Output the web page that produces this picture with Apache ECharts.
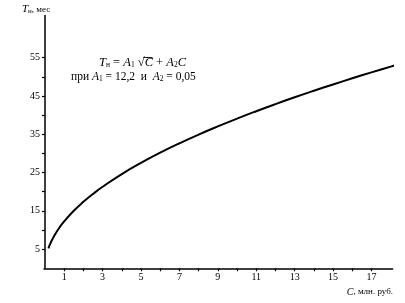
<!DOCTYPE html>
<html><head><meta charset="utf-8">
<script src="https://cdn.jsdelivr.net/npm/echarts@6/dist/echarts.min.js"></script>
<style>html,body{margin:0;padding:0;background:#fff}#c{width:405px;height:303px}</style>
</head><body><div id="c"></div>
<script>
const cValues = [0.18,0.3,0.5,0.75,1,1.5,2,2.5,3,4,5,6,7,8,9,10,11,12,13,14,15,16,17,18,18.5];
const tValues = [5.19,6.70,8.65,10.60,12.25,15.02,17.35,19.41,21.28,24.6,27.53,30.18,32.63,34.91,37.05,39.08,41.01,42.86,44.64,46.35,48.00,49.6,51.15,52.66,53.40];
const xTicks = [1,2,3,4,5,6,7,8,9,10,11,12,13,14,15,16,17];
const xLabels = [1,3,5,7,9,11,13,15,17];
const yTicks = [5,10,15,20,25,30,35,40,45,50,55];
const yLabels = [5,15,25,35,45,55];

const F = '"Liberation Serif", "DejaVu Serif", serif';
const chart = echarts.init(document.getElementById('c'), null, {renderer:'canvas'});
chart.setOption({
  animation:false,
  backgroundColor:'#fff',
  grid:{left:44, right:12.4, top:15.5, bottom:34.7},
  xAxis:{type:'value', min:-0.05, max:18.1,
    axisLine:{show:true, lineStyle:{color:'#000', width:1.5}},
    axisTick:{show:true, customValues:xTicks, length:3, lineStyle:{color:'#000', width:1.2}},
    axisLabel:{customValues:xLabels, color:'#000', fontFamily:F, fontSize:10, margin:4},
    splitLine:{show:false}},
  yAxis:{type:'value', min:0, max:66,
    axisLine:{show:true, lineStyle:{color:'#000', width:1.5}},
    axisTick:{show:true, customValues:yTicks, length:3, lineStyle:{color:'#000', width:1.2}},
    axisLabel:{customValues:yLabels, color:'#000', fontFamily:F, fontSize:10, margin:4},
    splitLine:{show:false}},
  series:[{type:'line', data:cValues.map((c,i)=>[c,tValues[i]]), smooth:true, showSymbol:false, clip:false,
    lineStyle:{color:'#000', width:2}}],
  graphic:[
    {type:'text', left:22, top:4, style:{text:'{i|T}{s|н}{n|, мес}', rich:{
      i:{fontFamily:F, fontStyle:'italic', fontSize:11, fill:'#000'},
      s:{fontFamily:F, fontSize:7, fill:'#000', padding:[4,0,0,0]},
      n:{fontFamily:F, fontSize:9, fill:'#000'}}}},
    {type:'text', right:12, top:287, style:{text:'{i|C}{n|, млн. руб.}', rich:{
      i:{fontFamily:F, fontStyle:'italic', fontSize:10, fill:'#000'},
      n:{fontFamily:F, fontSize:9, fill:'#000'}}}},
    {type:'text', left:99, top:56, style:{text:'{i|T}{s|н}{n| = }{i|A}{s|1}{n| √}{i|C}{n| + }{i|A}{s|2}{i|C}', rich:{
      i:{fontFamily:F, fontStyle:'italic', fontSize:12.5, fill:'#000'},
      s:{fontFamily:F, fontSize:7.5, fill:'#000', padding:[5,0,0,0]},
      n:{fontFamily:F, fontSize:12.5, fill:'#000'}}}},
    {type:'line', shape:{x1:143.5, y1:57.5, x2:152.5, y2:57.5}, style:{stroke:'#000', lineWidth:0.9}},
    {type:'text', left:71, top:71, style:{text:'{n|при }{i|A}{s|1}{n| = 12,2  и  }{i|A}{s|2}{n| = 0,05}', rich:{
      i:{fontFamily:F, fontStyle:'italic', fontSize:11.5, fill:'#000'},
      s:{fontFamily:F, fontSize:7.5, fill:'#000', padding:[5,0,0,0]},
      n:{fontFamily:F, fontSize:11.5, fill:'#000'}}}}
  ]
});
</script></body></html>
